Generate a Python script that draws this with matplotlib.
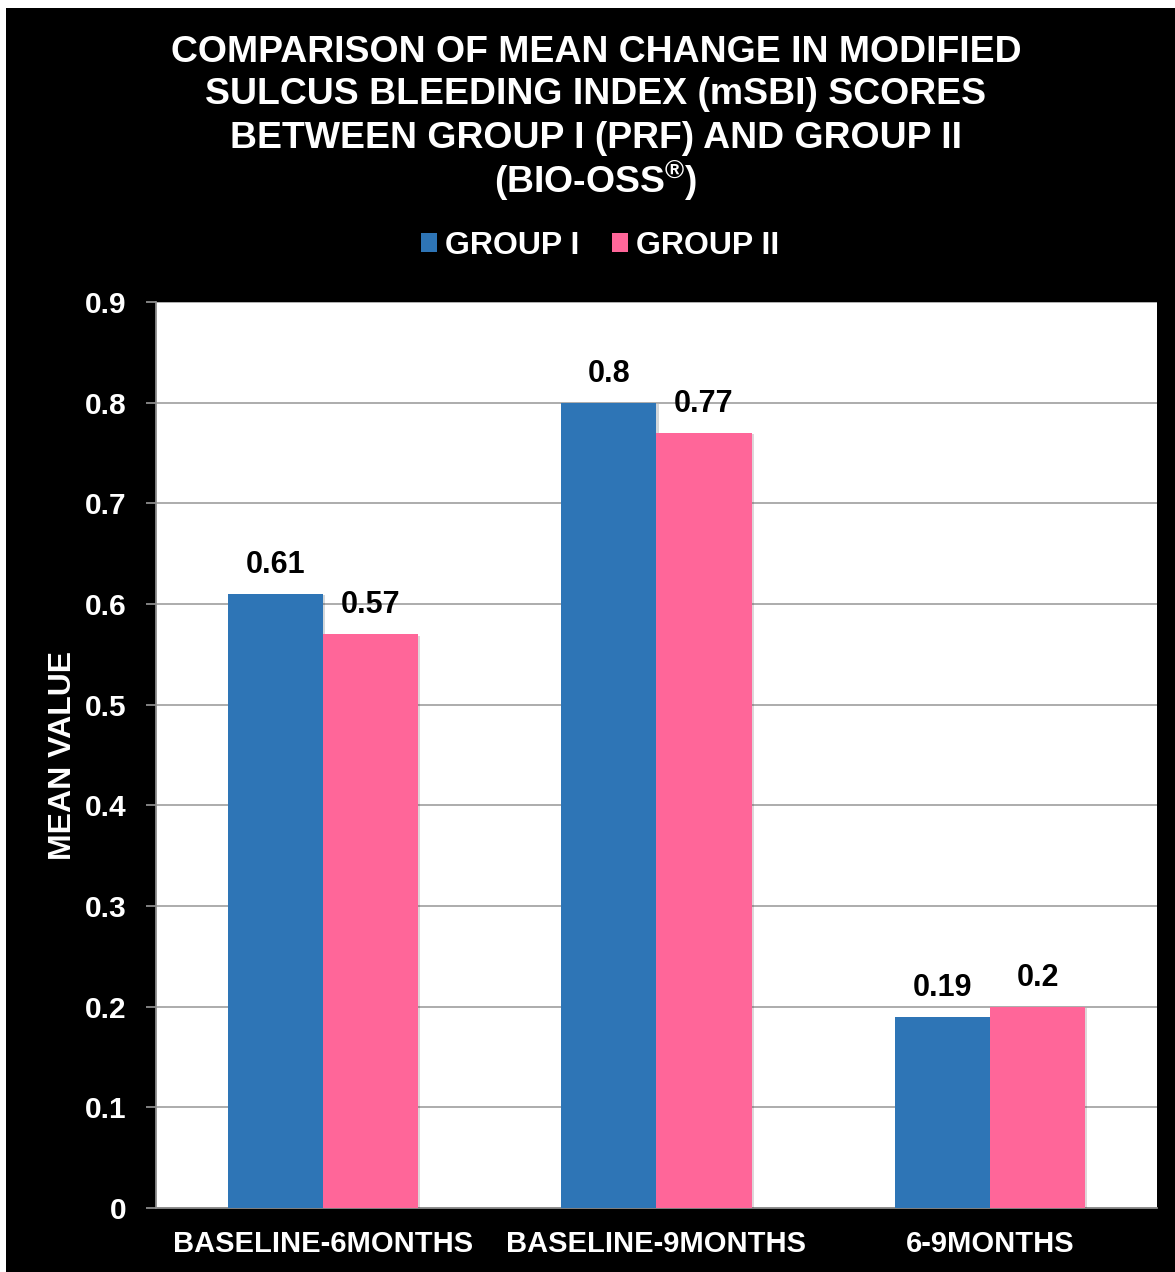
import matplotlib

matplotlib.use("Agg")
import matplotlib.pyplot as plt
import matplotlib.patheffects as pe
import numpy as np
from matplotlib.patches import Patch, Rectangle

plt.rcParams.update({
    "font.family": ["Liberation Sans", "DejaVu Sans"],
    "font.weight": "bold",
    "mathtext.fontset": "custom",
    "mathtext.rm": "Liberation Sans:bold",
    "mathtext.it": "Liberation Sans:bold",
    "mathtext.bf": "Liberation Sans:bold",
})

categories = ["BASELINE-6MONTHS", "BASELINE-9MONTHS", "6-9MONTHS"]
group1 = [0.61, 0.80, 0.19]
group2 = [0.57, 0.77, 0.20]
labels1 = ["0.61", "0.8", "0.19"]
labels2 = ["0.57", "0.77", "0.2"]
series_names = ["GROUP I", "GROUP II"]
yticks = [0, 0.1, 0.2, 0.3, 0.4, 0.5, 0.6, 0.7, 0.8, 0.9]
ytick_labels = ["0", "0.1", "0.2", "0.3", "0.4", "0.5", "0.6", "0.7", "0.8", "0.9"]
title_lines = [
    "COMPARISON OF MEAN CHANGE IN MODIFIED",
    "SULCUS BLEEDING INDEX (mSBI) SCORES",
    "BETWEEN GROUP I (PRF) AND GROUP II",
    r"(BIO-OSS$^{®}$)",
]

blue = "#2E75B6"
pink = "#FF6699"

W, H = 1175, 1272
fig = plt.figure(figsize=(W / 100, H / 100), dpi=100, facecolor="white")
# black canvas with a thin white edge at top and left
fig.patches.append(Rectangle((6 / W, 0), 1 - 6 / W, 1 - 8 / H, transform=fig.transFigure,
                             facecolor="black", edgecolor="none", zorder=-1))

ax = fig.add_axes([156 / W, 1 - 1208 / H, (1157 - 156) / W, (1208 - 302) / H])
ax.set_zorder(2)
ax.set_facecolor("white")

x = np.arange(len(categories))
w = 0.285
shadow = [pe.SimplePatchShadow(offset=(1.5, -1), alpha=0.18), pe.Normal()]
b1 = ax.bar(x - w / 2, group1, w, color=blue, zorder=3)
b2 = ax.bar(x + w / 2, group2, w, color=pink, zorder=3)
for bar in list(b1) + list(b2):
    bar.set_path_effects(shadow)

for xi, v, lab in zip(x - w / 2, group1, labels1):
    ax.annotate(lab, (xi, v), xytext=(0, 10), textcoords="offset points",
                ha="center", va="bottom", fontsize=22, fontweight="bold", color="black", zorder=4)
for xi, v, lab in zip(x + w / 2, group2, labels2):
    ax.annotate(lab, (xi, v), xytext=(0, 10), textcoords="offset points",
                ha="center", va="bottom", fontsize=22, fontweight="bold", color="black", zorder=4)

ax.set_xlim(-0.5, len(categories) - 0.5)
ax.set_ylim(0, 0.9)
ax.set_yticks(yticks)
ax.set_yticklabels(ytick_labels)
ax.set_xticks(x)
ax.set_xticklabels(categories)
ax.yaxis.grid(True, color="#A6A6A6", linewidth=1.3, zorder=1)
ax.set_axisbelow(True)
for s in ["top", "right"]:
    ax.spines[s].set_visible(False)
for s in ["left", "bottom"]:
    ax.spines[s].set_color("#8C8C8C")
    ax.spines[s].set_linewidth(1.3)
ax.tick_params(axis="y", colors="#8C8C8C", labelcolor="white", labelsize=21.5, length=7, width=1.3, pad=14)
ax.tick_params(axis="x", length=0, labelcolor="white", labelsize=21, pad=16)
ax.set_ylabel("MEAN VALUE", color="white", fontsize=23, fontweight="bold", labelpad=5)

# title
for i, line in enumerate(title_lines):
    fig.text(596 / W, 1 - (52 + 43 * i) / H, line, ha="center", va="center",
             fontsize=26.9, fontweight="bold", color="white")

handles = [Patch(facecolor=blue), Patch(facecolor=pink)]
leg = fig.legend(handles, series_names, loc="center", bbox_to_anchor=(600 / W, 1 - 246 / H),
                 ncol=2, frameon=False, fontsize=23, handlelength=0.52, handleheight=0.52,
                 handletextpad=0.25, columnspacing=1.0)
for t in leg.get_texts():
    t.set_color("white")
    t.set_fontweight("bold")

fig.savefig("out.png", dpi=100, facecolor=fig.get_facecolor())
